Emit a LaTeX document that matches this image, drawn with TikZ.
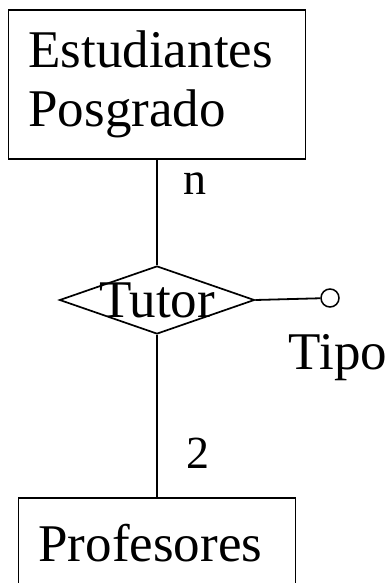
\documentclass[tikz,border=0pt]{standalone}
\usepackage{fontspec}
\setmainfont{Liberation Serif}
\usetikzlibrary{shapes, positioning}
\tikzstyle{entity} = [rectangle, draw=black, line width=1.6pt, align=left, inner xsep=20pt, inner ysep=0pt]
\tikzstyle{relation} = [diamond, draw=black, line width=1.7pt, minimum width=195pt, minimum height=68pt, inner sep=0pt]
\tikzstyle{attrib} = [circle, draw=black, line width=1.5pt, minimum size=18pt, inner sep=0pt]
\tikzstyle{card} = [inner sep=0pt, font=\fontsize{46}{52}\selectfont]
\tikzstyle{link} = [line width=1.8pt]

\begin{document}
\begin{tikzpicture}[x=1pt, y=1pt, font=\fontsize{53}{59}\selectfont]
    \useasboundingbox (0,0) rectangle (391,-583);
    \node (estudiantes) [entity, text width=257pt, minimum height=149pt] at (157,-84.5) {Estudiantes\\Posgrado};
    \node (tutor) [relation, below of=estudiantes, node distance=215.5pt] {};
    \node (tutortext) [inner sep=0pt] at (tutor) {Tutor};
    \node (profesores) [entity, text width=237pt, minimum height=90pt, below of=tutor, node distance=243pt] {Profesores};
    \node (tipo) [attrib] at (330,-298) {};
    \node (tipotext) [inner sep=0pt, anchor=base] at (338,-369) {Tipo};
    \node (ncard) [card] at (195,-184) {n};
    \node (twocard) [card] at (198,-453) {2};

    \draw [link] (estudiantes) -- (tutor);
    \draw [link] (tutor) -- (profesores);
    \draw [link] (tutor.east) -- (tipo);
\end{tikzpicture}
\end{document}
